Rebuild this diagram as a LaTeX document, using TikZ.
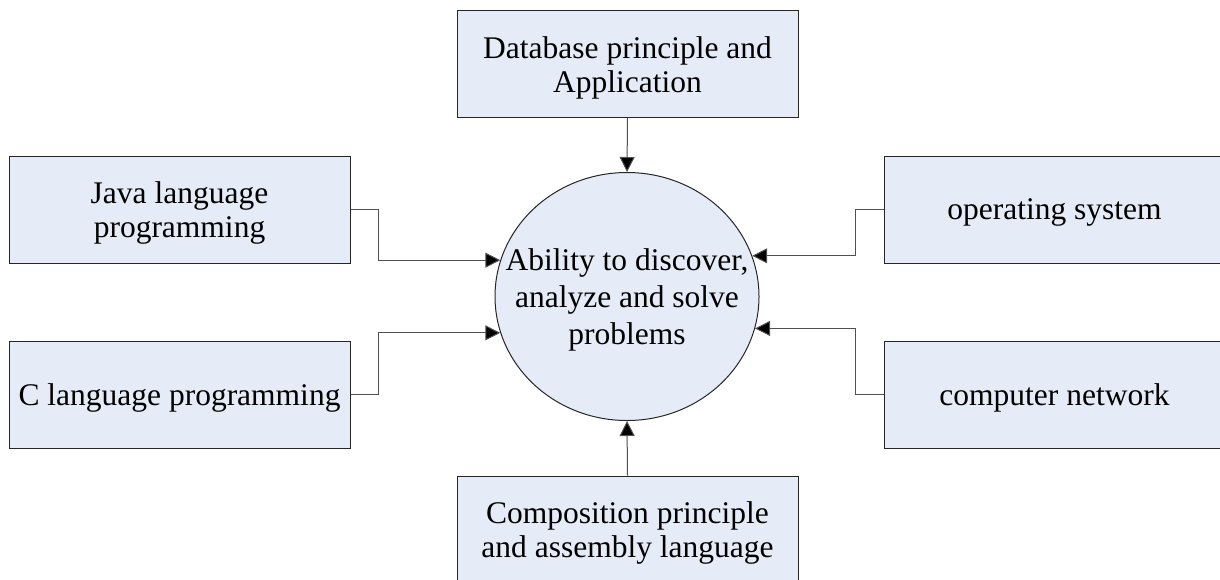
\documentclass[tikz,border=0pt]{standalone}
\usepackage{fontspec}
\setmainfont{Liberation Serif}
\usetikzlibrary{shapes.geometric,arrows.meta}
\definecolor{boxfill}{HTML}{E6ECF7}
\definecolor{linegray}{HTML}{505050}
\tikzset{
  rbox/.style={draw=black!85, line width=1pt, fill=boxfill, rectangle,
    minimum width=341pt, minimum height=107pt, inner sep=0pt},
  btext/.style={align=center, inner sep=0pt, font=\fontsize{31.5}{34}\selectfont},
  hub/.style={draw=black!85, line width=1pt, fill=boxfill, ellipse,
    minimum width=264pt, minimum height=248pt, inner sep=0pt},
  hubtext/.style={align=center, inner sep=0pt, font=\fontsize{31.5}{37}\selectfont},
  conn/.style={draw=linegray, line width=1pt,
    -{Triangle[length=15pt,width=15pt,fill=black]}}
}
\begin{document}
\begin{tikzpicture}[x=1pt,y=-1pt]
\clip (0,0) rectangle (1220,579);
\fill[white] (0,0) rectangle (1220,579);
\node[rbox] (db) at (627.5,63.5) {};
\node[rbox] (java) at (179.5,209.5) {};
\node[rbox] (clang) at (179.5,394.5) {};
\node[rbox] (os) at (1054.5,209.5) {};
\node[rbox] (net) at (1054.5,394.5) {};
\node[rbox] (comp) at (627.5,529.5) {};
\node[hub] (c) at (627,296.5) {};
\node[btext] (dbt) at ([yshift=-4pt]db.center) {Database principle and\\Application};
\node[btext] (javat) at ([yshift=-3pt]java.center) {Java language\\programming};
\node[btext] (clangt) at ([yshift=-3pt]clang.center) {C language programming};
\node[btext] (ost) at ([yshift=-3pt]os.center) {operating system};
\node[btext] (nett) at ([yshift=-3pt]net.center) {computer network};
\node[btext] (compt) at ([yshift=-3pt]comp.center) {Composition principle\\and assembly language};
\node[hubtext] (ct) at ([yshift=-3pt]c.center) {Ability to discover,\\analyze and solve\\problems};
\draw[conn] (db.south) -- (c.north);
\draw[conn] (comp.north) -- (c.south);
\draw[conn] (java.east) -- ++(28,0) |- (c.164.3);
\draw[conn] (clang.east) -- ++(28,0) |- (c.196.1);
\draw[conn] (os.west) -- ++(-28,0) |- (c.18.45);
\draw[conn] (net.west) -- ++(-28,0) |- (c.346.6);
\end{tikzpicture}
\end{document}
